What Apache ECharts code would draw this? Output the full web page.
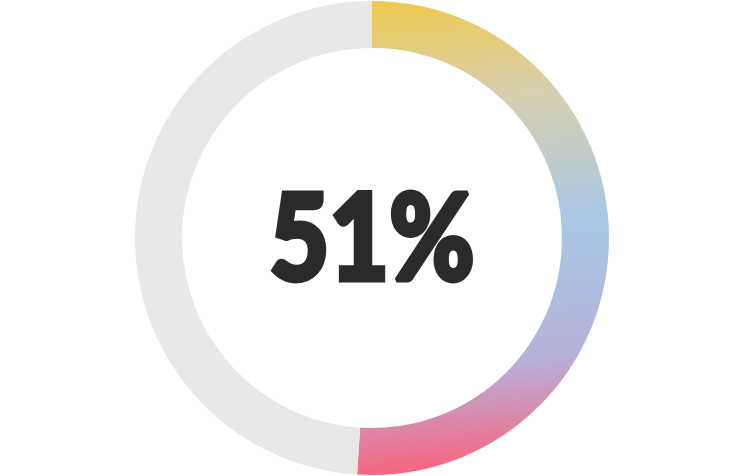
<!DOCTYPE html>
<html>
<head>
<meta charset="utf-8">
<script src="https://cdn.jsdelivr.net/npm/echarts@6/dist/echarts.min.js"></script>
<style>
  html, body { margin: 0; padding: 0; background: #fff; }
  #chart { width: 750px; height: 476px; }
</style>
</head>
<body>
<div id="chart"></div>
<script>
const names = ['done', 'rest'];
const values = [51, 49];
const label = '51%';

const chart = echarts.init(document.getElementById('chart'));
chart.setOption({
  animation: false,
  graphic: [
    {
      type: 'text',
      x: 372,
      y: 241,
      scaleX: 0.86,
      style: {
        text: label,
        fill: '#2b2b2b',
        stroke: '#2b2b2b',
        lineWidth: 5,
        lineJoin: 'round',
        font: '900 120px Lato',
        textAlign: 'center',
        textVerticalAlign: 'middle'
      }
    }
  ],
  series: [
    {
      type: 'pie',
      center: [372, 238],
      radius: [190, 237],
      startAngle: 90,
      clockwise: true,
      silent: true,
      label: { show: false },
      labelLine: { show: false },
      data: [
        {
          name: names[0],
          value: values[0],
          itemStyle: {
            color: {
              type: 'linear',
              x: 0, y: 0, x2: 0.15, y2: 1,
              colorStops: [
                { offset: 0, color: '#f1c94f' },
                { offset: 0.22, color: '#d6cfae' },
                { offset: 0.5, color: '#a9c7e6' },
                { offset: 0.78, color: '#b6b1db' },
                { offset: 1, color: '#f9647e' }
              ]
            }
          }
        },
        {
          name: names[1],
          value: values[1],
          itemStyle: { color: '#e8e8e8' }
        }
      ]
    }
  ]
});
</script>
</body>
</html>
